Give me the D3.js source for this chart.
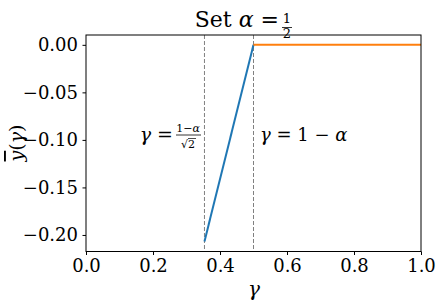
<!DOCTYPE html>
<html lang="en">
<head>
<meta charset="UTF-8">
<title>Set alpha = 1/2</title>
<script src="https://d3js.org/d3.v7.min.js"></script>
<style>
  body { margin: 0; background: #fff; }
  svg { display: block; }
  .m { font-style: italic; }
</style>
</head>
<body>
<svg width="440" height="306" font-family="'DejaVu Serif', serif"></svg>
<script>
  // data
  const blueX = [0.3536, 0.5];
  const blueY = [-0.207, 0.0];
  const orangeX = [0.5, 1.0];
  const orangeY = [0.0, 0.0];
  const vlines = [0.3536, 0.5];
  const xTicks = [0, 0.2, 0.4, 0.6, 0.8, 1.0];
  const yTicks = [0, -0.05, -0.10, -0.15, -0.20];

  const svg = d3.select("svg");
  const L = 86, R = 421, T = 35, B = 251.5;

  const x = d3.scaleLinear().domain([0, 1]).range([L, R]);
  const y = d3.scaleLinear().domain([-0.2174, 0.01035]).range([B, T]);

  // dashed guides
  svg.selectAll(".vl").data(vlines).enter().append("line")
    .attr("x1", d => x(d)).attr("x2", d => x(d))
    .attr("y1", T).attr("y2", B)
    .attr("stroke", "#808080").attr("stroke-width", 1)
    .attr("stroke-dasharray", "4,2");

  const line = d3.line().x(d => x(d[0])).y(d => y(d[1]));
  svg.append("path").datum(d3.zip(blueX, blueY)).attr("d", line)
    .attr("fill", "none").attr("stroke", "#1f77b4").attr("stroke-width", 2);
  svg.append("path").datum(d3.zip(orangeX, orangeY)).attr("d", line)
    .attr("fill", "none").attr("stroke", "#ff7f0e").attr("stroke-width", 2);

  // frame
  svg.append("rect").attr("x", L).attr("y", T).attr("width", R - L).attr("height", B - T)
    .attr("fill", "none").attr("stroke", "#000").attr("stroke-width", 1);

  const xa = svg.append("g").attr("transform", `translate(0,${B})`)
    .call(d3.axisBottom(x).tickValues(xTicks).tickFormat(d3.format(".1f")).tickSize(3.5).tickPadding(4));
  const ya = svg.append("g").attr("transform", `translate(${L},0)`)
    .call(d3.axisLeft(y).tickValues(yTicks).tickFormat(d3.format(".2f")).tickSize(3.5).tickPadding(4.5));
  [xa, ya].forEach(g => {
    g.attr("font-family", null).attr("font-size", 18);
    g.select(".domain").remove();
    g.selectAll(".tick line").attr("stroke", "#000");
  });

  // title: Set α = 1/2
  const title = svg.append("g");
  title.append("text").attr("x", 279).attr("y", 27).attr("text-anchor", "end")
    .attr("font-size", 22).html('Set <tspan class="m">α</tspan> =');
  title.append("text").attr("x", 287).attr("y", 23).attr("text-anchor", "middle")
    .attr("font-size", 13).text("1");
  title.append("line").attr("x1", 282).attr("x2", 292).attr("y1", 27.5).attr("y2", 27.5)
    .attr("stroke", "#000").attr("stroke-width", 0.8);
  title.append("text").attr("x", 287).attr("y", 38).attr("text-anchor", "middle")
    .attr("font-size", 13).text("2");

  // axis labels
  svg.append("text").attr("class", "m").attr("x", 254).attr("y", 296)
    .attr("text-anchor", "middle").attr("font-size", 20).text("γ");
  svg.append("text").attr("transform", "translate(23,143) rotate(-90)")
    .attr("text-anchor", "middle").attr("font-size", 19)
    .html('<tspan class="m" text-decoration="overline">y</tspan>(<tspan class="m">γ</tspan>)');

  // annotation left: γ = (1−α)/√2
  const ann = svg.append("g");
  ann.append("text").attr("x", 173).attr("y", 141).attr("text-anchor", "end")
    .attr("font-size", 19).html('<tspan class="m">γ</tspan> =');
  ann.append("text").attr("x", 188).attr("y", 132).attr("text-anchor", "middle")
    .attr("font-size", 11).html('1−<tspan class="m">α</tspan>');
  ann.append("line").attr("x1", 176).attr("x2", 201).attr("y1", 135).attr("y2", 135)
    .attr("stroke", "#000").attr("stroke-width", 0.8);
  ann.append("text").attr("x", 188).attr("y", 148).attr("text-anchor", "middle")
    .attr("font-size", 11).text("√2");
  ann.append("line").attr("x1", 188).attr("x2", 196).attr("y1", 138.5).attr("y2", 138.5)
    .attr("stroke", "#000").attr("stroke-width", 0.7);

  // annotation right: γ = 1 − α
  svg.append("text").attr("x", 260).attr("y", 141).attr("font-size", 18)
    .html('<tspan class="m">γ</tspan> = 1 − <tspan class="m">α</tspan>');
</script>
</body>
</html>
